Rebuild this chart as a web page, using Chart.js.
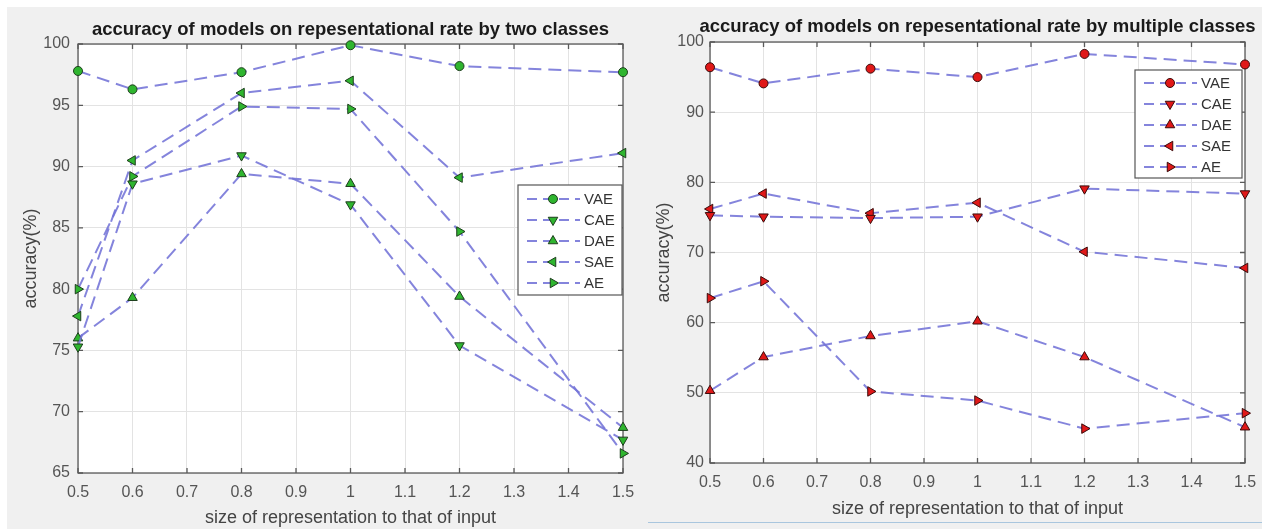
<!DOCTYPE html>
<html>
<head>
<meta charset="utf-8">
<script src="https://cdn.jsdelivr.net/npm/chart.js@4.4.0/dist/chart.umd.min.js"></script>
<style>
  html, body { margin: 0; padding: 0; background: #fff; }
  #page { position: relative; width: 1262px; height: 529px; overflow: hidden; }
  #bg { position: absolute; left: 7px; top: 7px; right: 0; bottom: 0; background: #f0f0f0; }
  canvas { position: absolute; }
  #left { left: 7px; top: 7px; }
  #right { left: 640px; top: 7px; }
  #rule { position: absolute; left: 648px; top: 522px; width: 614px; height: 1px; background: #a9c6de; }
</style>
</head>
<body>
<div id="page">
  <div id="bg"></div>
  <canvas id="left" width="628" height="522"></canvas>
  <canvas id="right" width="622" height="515"></canvas>
  <div id="rule"></div>
</div>
<script>
const sizes = [0.5, 0.6, 0.8, 1, 1.2, 1.5]
const xTicks = [0.5, 0.6, 0.7, 0.8, 0.9, 1, 1.1, 1.2, 1.3, 1.4, 1.5]
const models = ['VAE', 'CAE', 'DAE', 'SAE', 'AE']

// two classes
const twoVAE = [97.8, 96.3, 97.7, 99.9, 98.2, 97.7]
const twoCAE = [75.3, 88.6, 90.9, 86.9, 75.4, 67.7]
const twoDAE = [76.0, 79.3, 89.4, 88.6, 79.4, 68.7]
const twoSAE = [77.8, 90.5, 96.0, 97.0, 89.1, 91.1]
const twoAE = [80.0, 89.2, 94.9, 94.7, 84.7, 66.6]
const twoYTicks = [65, 70, 75, 80, 85, 90, 95, 100]

// multiple classes
const multiVAE = [96.4, 94.1, 96.2, 95.0, 98.3, 96.8]
const multiCAE = [75.3, 75.1, 74.9, 75.1, 79.1, 78.4]
const multiDAE = [50.3, 55.1, 58.1, 60.2, 55.1, 45.1]
const multiSAE = [76.2, 78.4, 75.6, 77.1, 70.1, 67.8]
const multiAE = [63.5, 65.9, 50.2, 48.9, 44.9, 47.1]
const multiYTicks = [40, 50, 60, 70, 80, 90, 100]

const FONT = "'Liberation Sans', Arial, sans-serif"
const LINE = 'rgba(115, 115, 215, 0.88)'
const styles = [
  { pointStyle: 'circle', rotation: 0, radius: 4.5 },
  { pointStyle: 'triangle', rotation: 180, radius: 5.5 },
  { pointStyle: 'triangle', rotation: 0, radius: 5.5 },
  { pointStyle: 'triangle', rotation: 270, radius: 5.5 },
  { pointStyle: 'triangle', rotation: 90, radius: 5.5 },
]

// white plot area, box and inward ticks like matlab
const framePlugin = {
  id: 'frame',
  beforeDraw(chart) {
    const { ctx, chartArea: a } = chart
    ctx.save()
    ctx.fillStyle = '#fff'
    ctx.fillRect(a.left, a.top, a.right - a.left, a.bottom - a.top)
    ctx.restore()
  },
  beforeDatasetsDraw(chart) {
    const { ctx, chartArea: a, scales } = chart
    ctx.save()
    ctx.strokeStyle = '#5a5a5a'
    ctx.lineWidth = 1.3
    ctx.strokeRect(a.left, a.top, a.right - a.left, a.bottom - a.top)
    ctx.beginPath()
    for (const t of scales.x.ticks) {
      const px = scales.x.getPixelForValue(t.value)
      ctx.moveTo(px, a.bottom); ctx.lineTo(px, a.bottom - 5)
      ctx.moveTo(px, a.top); ctx.lineTo(px, a.top + 5)
    }
    for (const t of scales.y.ticks) {
      const py = scales.y.getPixelForValue(t.value)
      ctx.moveTo(a.left, py); ctx.lineTo(a.left + 5, py)
      ctx.moveTo(a.right, py); ctx.lineTo(a.right - 5, py)
    }
    ctx.stroke()
    ctx.restore()
  },
  afterDraw(chart, args, opts) {
    const { ctx, chartArea: a } = chart
    ctx.save()
    ctx.font = `bold 18.5px ${FONT}`
    ctx.fillStyle = '#1a1a1a'
    ctx.textAlign = 'center'
    ctx.textBaseline = 'middle'
    ctx.fillText(opts.text, (a.left + a.right) / 2, a.top - opts.gap)
    ctx.restore()
  }
}

const boxLegend = {
  id: 'boxLegend',
  afterDatasetsDraw(chart, args, opts) {
    const { ctx, chartArea: a } = chart
    const left = a.right - opts.dx
    const top = a.top + opts.dy
    ctx.save()
    ctx.fillStyle = '#fff'
    ctx.fillRect(left, top, opts.w, opts.h)
    ctx.strokeStyle = '#555'
    ctx.lineWidth = 1.2
    ctx.strokeRect(left, top, opts.w, opts.h)
    ctx.font = `15px ${FONT}`
    ctx.textBaseline = 'middle'
    chart.data.datasets.forEach((ds, i) => {
      const y = top + opts.first + i * 21
      ctx.strokeStyle = LINE
      ctx.lineWidth = 2
      ctx.setLineDash([10, 6])
      ctx.beginPath()
      ctx.moveTo(left + 9, y); ctx.lineTo(left + 62, y)
      ctx.stroke()
      ctx.setLineDash([])
      ctx.fillStyle = ds.pointBackgroundColor
      ctx.strokeStyle = ds.pointBorderColor
      ctx.lineWidth = 1
      Chart.helpers.drawPoint(ctx, { pointStyle: ds.pointStyle, rotation: ds.pointRotation, radius: ds.pointRadius, borderWidth: 1 }, left + 35, y)
      ctx.fillStyle = '#333'
      ctx.fillText(ds.label, left + 66, y + 1)
    })
    ctx.restore()
  }
}

const makeChart = (canvas, cfg) => new Chart(canvas, {
  type: 'line',
  data: {
    datasets: models.map((name, i) => ({
      label: name,
      data: sizes.map((x, j) => ({ x, y: cfg.series[i][j] })),
      borderColor: LINE,
      borderWidth: 2,
      borderDash: [13, 7],
      tension: 0,
      pointStyle: styles[i].pointStyle,
      pointRotation: styles[i].rotation,
      pointRadius: styles[i].radius,
      pointBorderWidth: 1,
      pointBackgroundColor: cfg.fill,
      pointBorderColor: cfg.edge,
      clip: false,
    }))
  },
  options: {
    responsive: false,
    animation: false,
    devicePixelRatio: 1,
    layout: { padding: { top: cfg.top, right: cfg.right, left: 0, bottom: 0 } },
    scales: {
      x: {
        type: 'linear',
        min: 0.5,
        max: 1.5,
        afterBuildTicks: s => { s.ticks = xTicks.map(v => ({ value: v })) },
        afterFit: s => { s.height = cfg.xAxisH; s.paddingLeft = 0; s.paddingRight = 0 },
        ticks: {
          callback: v => String(+v.toFixed(1)),
          font: { size: 16, family: FONT },
          color: '#555',
          padding: 10,
          maxRotation: 0,
          autoSkip: false,
        },
        grid: { color: '#e3e3e3', drawTicks: false },
        border: { display: false },
        title: {
          display: true,
          text: 'size of representation to that of input',
          font: { size: 18, family: FONT },
          color: '#444',
          padding: { top: 0, bottom: cfg.xTitlePad },
        },
      },
      y: {
        min: cfg.yTicks[0],
        max: cfg.yTicks[cfg.yTicks.length - 1],
        afterBuildTicks: s => { s.ticks = cfg.yTicks.map(v => ({ value: v })) },
        afterFit: s => { s.width = cfg.yAxisW; s.paddingTop = 0; s.paddingBottom = 0 },
        ticks: {
          font: { size: 16, family: FONT },
          color: '#555',
          padding: cfg.yTickPad,
        },
        grid: { color: '#e3e3e3', drawTicks: false },
        border: { display: false },
        title: {
          display: true,
          text: 'accuracy(%)',
          font: { size: 18, family: FONT },
          color: '#444',
          padding: { top: 13, bottom: 0 },
        },
      },
    },
    plugins: {
      legend: { display: false },
      tooltip: { enabled: false },
      frame: { text: cfg.title, gap: cfg.titleGap },
      boxLegend: cfg.legend,
    },
  },
  plugins: [framePlugin, boxLegend],
})

makeChart(document.getElementById('left'), {
  title: 'accuracy of models on repesentational rate by two classes',
  series: [twoVAE, twoCAE, twoDAE, twoSAE, twoAE],
  yTicks: twoYTicks,
  fill: '#2fb52f',
  edge: '#1c3d1c',
  top: 37, right: 12, xAxisH: 56, yAxisW: 71, yTickPad: 8, xTitlePad: 0, titleGap: 14,
  legend: { dx: 105, dy: 141, w: 104, h: 110, first: 14 },
})

makeChart(document.getElementById('right'), {
  title: 'accuracy of models on repesentational rate by multiple classes',
  series: [multiVAE, multiCAE, multiDAE, multiSAE, multiAE],
  yTicks: multiYTicks,
  fill: '#e01818',
  edge: '#3a0a0a',
  top: 35, right: 17, xAxisH: 59, yAxisW: 70, yTickPad: 6, xTitlePad: 2, titleGap: 15,
  legend: { dx: 110, dy: 28, w: 107, h: 108, first: 13 },
})
</script>
</body>
</html>
